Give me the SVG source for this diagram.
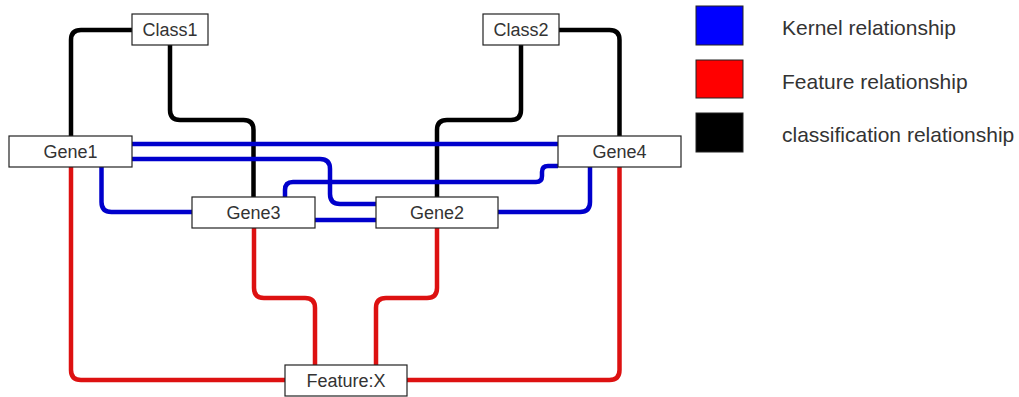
<svg xmlns="http://www.w3.org/2000/svg" width="1019" height="397" viewBox="0 0 1019 397">
<style>
.bg{fill:#ffffff}
.c{fill:none;stroke-width:4.5;stroke-linejoin:round;stroke-linecap:butt}
.k{stroke:#0000cc}
.f{stroke:#dd1111}
.b{stroke:#000000}
.box{fill:#ffffff;stroke:#222222;stroke-width:1.2}
.t{font-family:"Liberation Sans",Arial,sans-serif;font-size:18px;fill:#333333;text-anchor:middle}
.lt{font-family:"Liberation Sans",Arial,sans-serif;font-size:21px;fill:#333333}
.sw{stroke:#222222;stroke-width:1}
</style>
<rect class="bg" x="0" y="0" width="1019" height="397"/>
<g id="connectors">
<path class="c b" d="M132,30 H81 Q71,30 71,40 V136"/>
<path class="c b" d="M170,45 V110 Q170,120 180,120 H243.5 Q253.5,120 253.5,130 V197"/>
<path class="c b" d="M521,45 V110 Q521,120 511,120 H447 Q437,120 437,130 V197"/>
<path class="c b" d="M559,30 H609.5 Q619.5,30 619.5,40 V136"/>
<path class="c k" d="M132,144 H558"/>
<path class="c k" d="M132,159 H320 Q330,159 330,169 V194 Q330,204 340,204 H376"/>
<path class="c k" d="M101.5,167 V202 Q101.5,212 111.5,212 H192"/>
<path class="c k" d="M285,197 V190 Q285,182 293,182 H536 Q542,182 542,176 V172 Q542,166 548,166 H558"/>
<path class="c k" d="M315,220 H376"/>
<path class="c k" d="M498,212 H580 Q590,212 590,202 V167"/>
<path class="c f" d="M71,167 V370 Q71,380 81,380 H285"/>
<path class="c f" d="M254,228 V288 Q254,298 264,298 H305 Q315,298 315,308 V365"/>
<path class="c f" d="M437,228 V288 Q437,298 427,298 H386 Q376,298 376,308 V365"/>
<path class="c f" d="M619.5,167 V370 Q619.5,380 609.5,380 H407"/>
</g>
<g id="Class1"><rect class="box" x="132" y="14" width="76" height="31"/><text class="t" x="170" y="36">Class1</text></g>
<g id="Class2"><rect class="box" x="483" y="14" width="76" height="31"/><text class="t" x="521" y="36">Class2</text></g>
<g id="Gene1"><rect class="box" x="9" y="136" width="123" height="31"/><text class="t" x="70.5" y="158">Gene1</text></g>
<g id="Gene4"><rect class="box" x="558" y="136" width="123" height="31"/><text class="t" x="619.5" y="158">Gene4</text></g>
<g id="Gene3"><rect class="box" x="192" y="197" width="123" height="31"/><text class="t" x="253.5" y="219">Gene3</text></g>
<g id="Gene2"><rect class="box" x="376" y="197" width="122" height="31"/><text class="t" x="437" y="219">Gene2</text></g>
<g id="FeatureX"><rect class="box" x="285" y="365" width="122" height="31"/><text class="t" x="346" y="387">Feature:X</text></g>
<g id="legend">
<rect class="sw" x="696" y="6" width="47" height="39" fill="#0000ff"/>
<text class="lt" x="782" y="35">Kernel relationship</text>
<rect class="sw" x="696" y="60" width="47" height="38" fill="#ff0000"/>
<text class="lt" x="782" y="89">Feature relationship</text>
<rect class="sw" x="696" y="113" width="47" height="39" fill="#000000"/>
<text class="lt" x="782" y="142">classification relationship</text>
</g>
</svg>
